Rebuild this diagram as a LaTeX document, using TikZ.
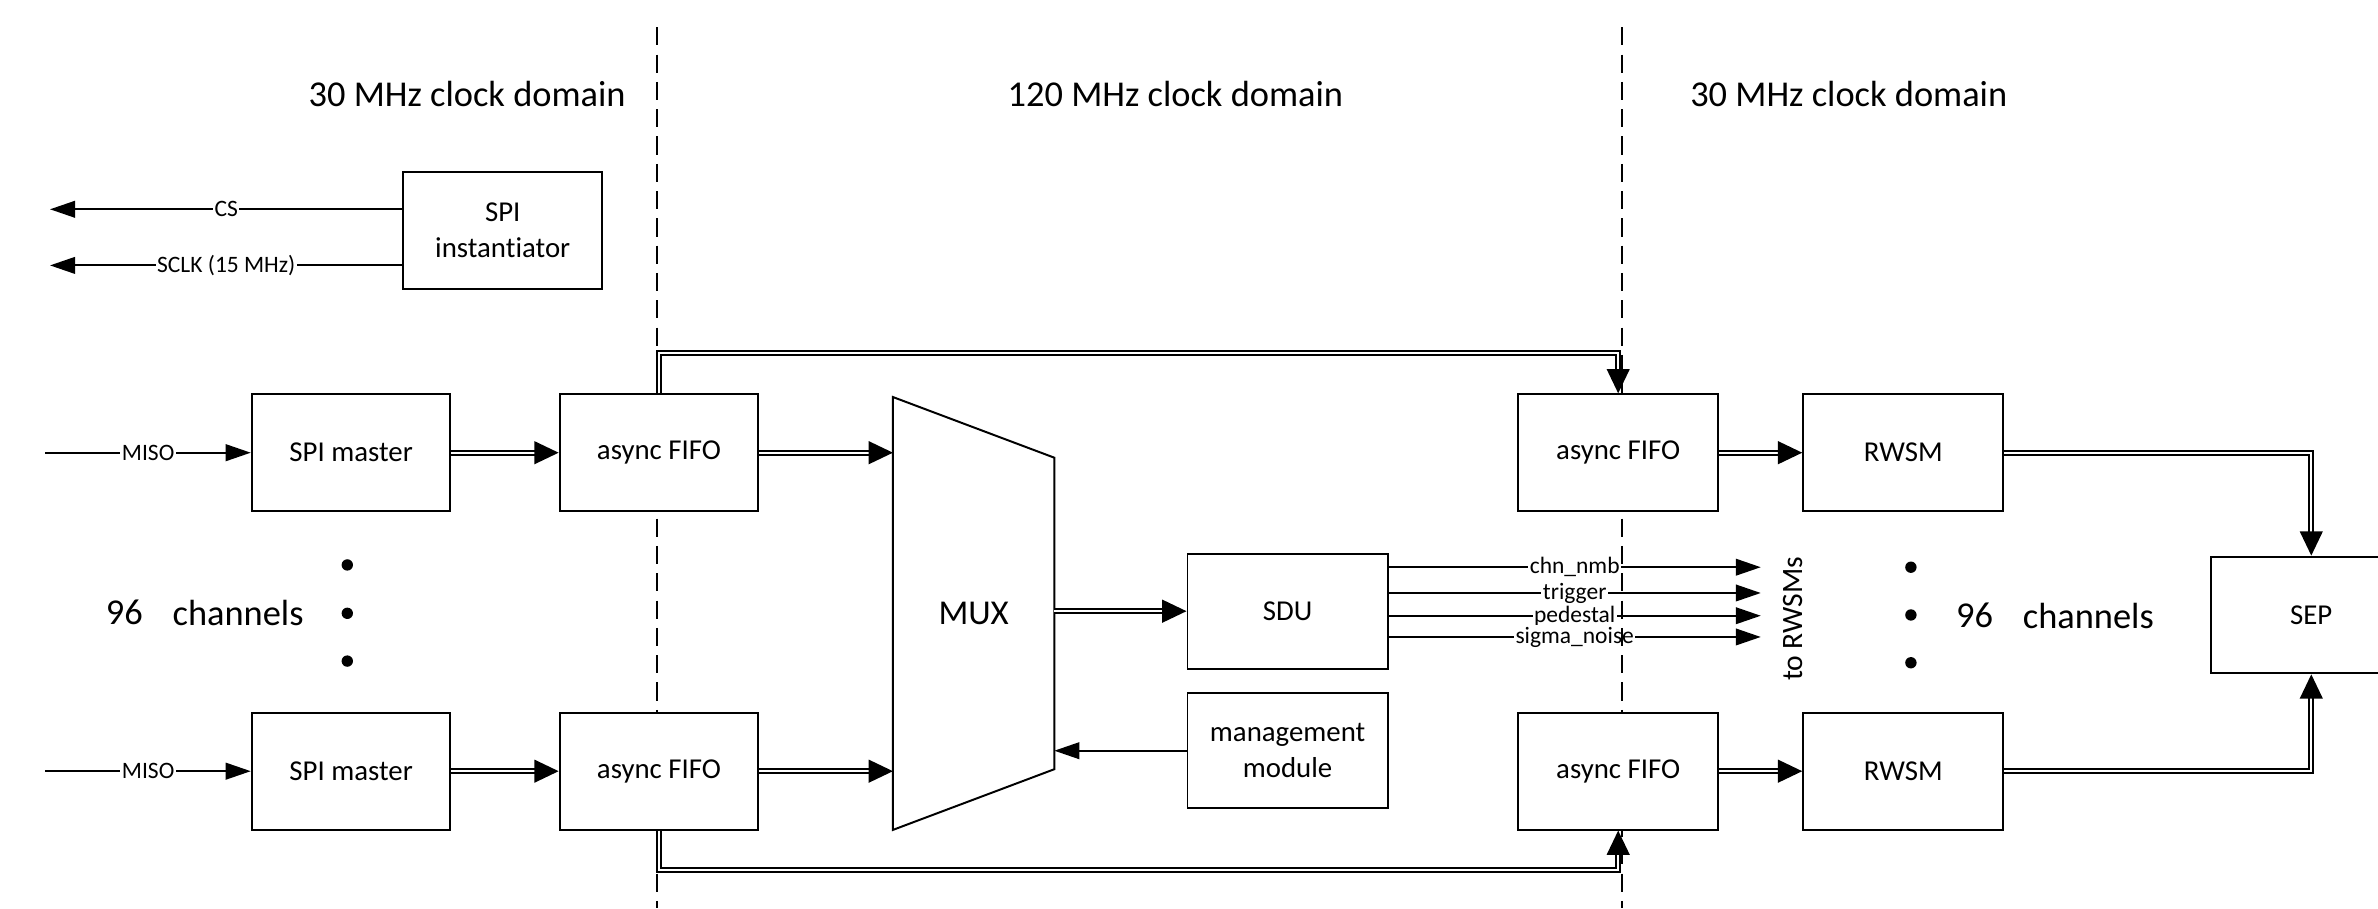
\documentclass[tikz,border=0pt]{standalone}
\usepackage{fontspec}
\setmainfont[Ligatures=NoCommon]{Carlito}
\usetikzlibrary{arrows.meta,calc}
\pgfdeclarelayer{bg}
\pgfsetlayers{bg,main}
\begin{document}
\begin{tikzpicture}[x=1pt,y=-1pt,
  box/.style={draw, fill=white, line width=1.3pt, minimum width=131pt, minimum height=77pt, inner sep=0pt,
    font=\fontsize{19}{24}\selectfont, align=center},
  hdr/.style={font=\fontsize{24}{28}\selectfont, inner sep=0pt},
  lbl/.style={fill=white, inner sep=1pt, font=\fontsize{15.5}{18}\selectfont},
  sarrow/.style={line width=1.2pt, -{Triangle[length=16.5pt,width=11pt]}},
  dblarrow/.style={double, double distance=1.4pt, line width=1.2pt, line join=miter,
    -{Triangle[length=16pt,width=15pt]}},
  dashline/.style={line width=1.1pt, dash pattern=on 12pt off 6pt},
  dotm/.style={circle, fill, inner sep=0pt, minimum size=7.5pt}
]
\useasboundingbox (0,0) rectangle (1568,599);

% headers
\node[hdr] (h1) at (308,62) {30 MHz clock domain};
\node[hdr] (h2) at (775,62) {120 MHz clock domain};
\node[hdr] (h3) at (1219,62) {30 MHz clock domain};

% boxes
\node[box] (inst) at (331.5,152) {SPI\\instantiator};
\node[box] (mT) at (231.5,298.5) {SPI master};
\node[box] (mB) at (231.5,508.5) {SPI master};
\node[box] (fLT) at (434.5,298.5) {async FIFO};
\node[box] (fLB) at (434.5,508.5) {async FIFO};
\node[box, minimum width=132pt, minimum height=76pt] (sdu) at (849,403) {SDU};
\node[box, minimum width=132pt, minimum height=76pt] (mgmt) at (849,495) {management\\module};
\node[box, minimum width=132pt] (fRT) at (1067,298.5) {async FIFO};
\node[box, minimum width=132pt] (fRB) at (1067,508.5) {async FIFO};
\node[box, minimum width=132pt] (rT) at (1255,298.5) {RWSM};
\node[box, minimum width=132pt] (rB) at (1255,508.5) {RWSM};
\node[box, minimum width=132pt] (sep) at (1524,405.5) {SEP};

% MUX
\node[minimum width=106pt, minimum height=285pt, inner sep=0pt,
  font=\fontsize{23}{28}\selectfont] (mux) at (642,404.5) {MUX};
\begin{pgfonlayer}{bg}
\draw[line width=1.3pt, line join=miter, fill=white] (mux.north west) -- ($(mux.north east)+(0,40)$)
  -- ($(mux.south east)+(0,-40)$) -- (mux.south west) -- cycle;
\end{pgfonlayer}

% channel dots and text
\node[dotm] (dl1) at (229,372.5) {};
\node[dotm] (dl2) at (229,404.4) {};
\node[dotm] (dl3) at (229,435.9) {};
\node[hdr] (n96l) at (82,404) {96};
\node[hdr] (chl) at (157,404) {channels};
\node[dotm] (dr1) at (1260,374) {};
\node[dotm] (dr2) at (1260,405.5) {};
\node[dotm] (dr3) at (1260,437) {};
\node[hdr] (n96r) at (1302,406) {96};
\node[hdr] (chr) at (1377,406) {channels};

% to RWSMs
\node[rotate=90, inner sep=0pt, font=\fontsize{19.5}{24}\selectfont] (toR) at (1182,408) {to RWSMs};

\begin{pgfonlayer}{bg}
% SPI instantiator outputs
\coordinate (csE) at (33,138);
\coordinate (scE) at (33,175);
\draw[sarrow] (inst.west |- csE) -- node[lbl]{CS} (csE);
\draw[sarrow] (inst.west |- scE) -- node[lbl]{SCLK (15 MHz)} (scE);

% MISO inputs
\coordinate (misoT) at (30,298.5);
\coordinate (misoB) at (30,508.5);
\draw[sarrow] (misoT) -- node[lbl]{MISO} (mT.west);
\draw[sarrow] (misoB) -- node[lbl]{MISO} (mB.west);

% SDU outputs
\coordinate (o1) at (1161,374);
\coordinate (o2) at (1161,391);
\coordinate (o3) at (1161,406);
\coordinate (o4) at (1161,420);
\draw[sarrow] (sdu.east |- o1) -- node[lbl]{chn\_nmb} (o1);
\draw[sarrow] (sdu.east |- o2) -- node[lbl]{trigger} (o2);
\draw[sarrow] (sdu.east |- o3) -- node[lbl]{pedestal} (o3);
\draw[sarrow] (sdu.east |- o4) -- node[lbl]{sigma\_noise} (o4);

% clock domain borders
\coordinate (dAt) at (433.4,18);
\coordinate (dAb) at (433.4,599);
\coordinate (dBt) at (1069.3,18);
\coordinate (dBb) at (1069.3,599);
\draw[dashline] (dAt) -- (dAb);
\draw[dashline] (dBt) -- (dBb);
\end{pgfonlayer}

% data path
\draw[dblarrow] (mT.east) -- (fLT.west);
\draw[dblarrow] (mB.east) -- (fLB.west);
\draw[dblarrow] (fLT.east) -- (fLT.east -| mux.west);
\draw[dblarrow] (fLB.east) -- (fLB.east -| mux.west);
\draw[dblarrow] (sdu.west -| mux.east) -- (sdu.west);
\draw[sarrow] (mgmt.west) -- (mgmt.west -| mux.east);

% bypass
\draw[dblarrow] (fLT.north) -- ++(0,-26.5) -| (fRT.north);
\draw[dblarrow] (fLB.south) -- ++(0,26) -| (fRB.south);

% right side
\draw[dblarrow] (fRT.east) -- (rT.west);
\draw[dblarrow] (fRB.east) -- (rB.west);
\draw[dblarrow] (rT.east) -| (sep.north);
\draw[dblarrow] (rB.east) -| (sep.south);
\end{tikzpicture}
\end{document}
